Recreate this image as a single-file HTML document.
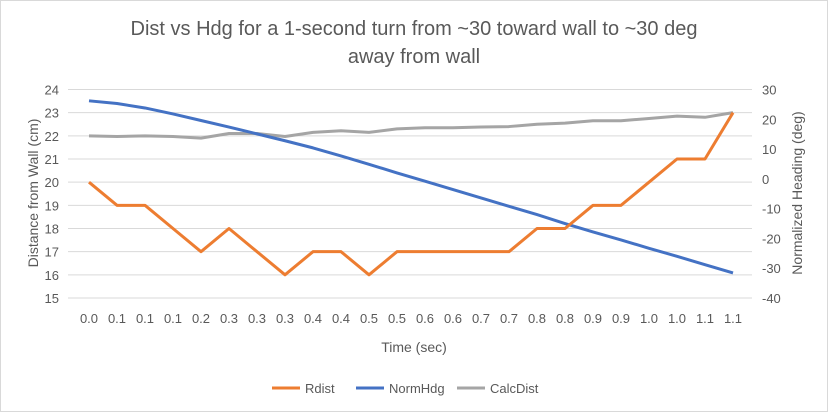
<!DOCTYPE html>
<html><head><meta charset="utf-8"><style>
body{margin:0;background:#fff;}
svg{display:block;font-family:"Liberation Sans",Arial,sans-serif;}
</style></head><body>
<svg id="chart" width="828" height="412" viewBox="0 0 828 412">
<rect x="0.5" y="0.5" width="827" height="411" fill="#fff" stroke="#d9d9d9"/>
<text x="414" y="35" text-anchor="middle" font-size="20" fill="#595959">Dist vs Hdg for a 1-second turn from ~30 toward wall to ~30 deg</text>
<text x="414" y="63" text-anchor="middle" font-size="20" fill="#595959">away from wall</text>
<g id="grid"></g><g id="series"></g><g id="ticks"></g>
<text x="414" y="352" text-anchor="middle" font-size="14" fill="#595959">Time (sec)</text>
<text transform="translate(38,193) rotate(-90)" text-anchor="middle" font-size="14" fill="#595959">Distance from Wall (cm)</text>
<text transform="translate(802,193) rotate(-90)" text-anchor="middle" font-size="14" fill="#595959">Normalized Heading (deg)</text>
<g>
<g><line x1="272" y1="388" x2="300" y2="388" stroke="#ed7d31" stroke-width="3"/><text x="305" y="393" font-size="13" fill="#595959">Rdist</text></g>
<g><line x1="356" y1="388" x2="384" y2="388" stroke="#4472c4" stroke-width="3"/><text x="389" y="393" font-size="13" fill="#595959">NormHdg</text></g>
<g><line x1="457" y1="388" x2="485" y2="388" stroke="#a5a5a5" stroke-width="3"/><text x="490" y="393" font-size="13" fill="#595959">CalcDist</text></g>
</g>
</svg>
<script>
const categories=["0.0","0.1","0.1","0.1","0.2","0.3","0.3","0.3","0.4","0.4","0.5","0.5","0.6","0.6","0.7","0.7","0.8","0.8","0.9","0.9","1.0","1.0","1.1","1.1"];
const rdist=[20,19,19,18,17,18,17,16,17,17,16,17,17,17,17,17,18,18,19,19,20,21,21,23];
const normHdg=[26.2,25.3,23.8,21.8,19.6,17.4,15.1,12.8,10.4,7.7,4.9,2.0,-0.8,-3.6,-6.4,-9.2,-12,-15,-17.8,-20.5,-23.3,-26,-28.8,-31.6];
const calcDist=[22,21.97,22,21.97,21.9,22.1,22.1,21.97,22.15,22.22,22.15,22.3,22.35,22.35,22.38,22.4,22.5,22.55,22.65,22.65,22.75,22.85,22.8,23];
const leftTicks=[15,16,17,18,19,20,21,22,23,24];
const rightTicks=[-40,-30,-20,-10,0,10,20,30];
const NS="http://www.w3.org/2000/svg";
const X0=89,X1=733,YT=89.5,YB=298,PL=68,PR=752;
function xAt(i){return X0+(X1-X0)*i/(categories.length-1);}
function yL(v){return YB-(v-15)/(24-15)*(YB-YT);}
function yR(v){return YB-(v+40)/(70)*(YB-YT);}
function mk(tag,attrs,parent){const e=document.createElementNS(NS,tag);for(const k in attrs)e.setAttribute(k,attrs[k]);parent.appendChild(e);return e;}
const grid=document.getElementById('grid'),ser=document.getElementById('series'),tk=document.getElementById('ticks');
leftTicks.forEach(v=>{
  const l=mk('line',{x1:PL,x2:PR,y1:yL(v),y2:yL(v),stroke:'#d9d9d9','stroke-width':1},grid);
  
  
  const t=mk('text',{x:59,y:yL(v)+5,'text-anchor':'end','font-size':13,fill:'#595959'},tk);
  t.textContent=v;
  
  
});
rightTicks.forEach(v=>{
  const t=mk('text',{x:762,y:yR(v)+5,'text-anchor':'start','font-size':13,fill:'#595959'},tk);
  t.textContent=v;
  
  
});
categories.forEach((c,i)=>{
  const t=mk('text',{x:xAt(i),y:323,'text-anchor':'middle','font-size':13,fill:'#595959'},tk);
  t.textContent=c;
  
  
});
function line(vals,yf,color,name){
  const p=mk('polyline',{points:vals.map((v,i)=>xAt(i)+','+yf(v)).join(' '),fill:'none',stroke:color,'stroke-width':3,'stroke-linejoin':'round'},ser);
  
  
}
line(calcDist,yL,'#a5a5a5','calcdist-line');
line(normHdg,yR,'#4472c4','normhdg-line');
line(rdist,yL,'#ed7d31','rdist-line');
</script>
</body></html>
